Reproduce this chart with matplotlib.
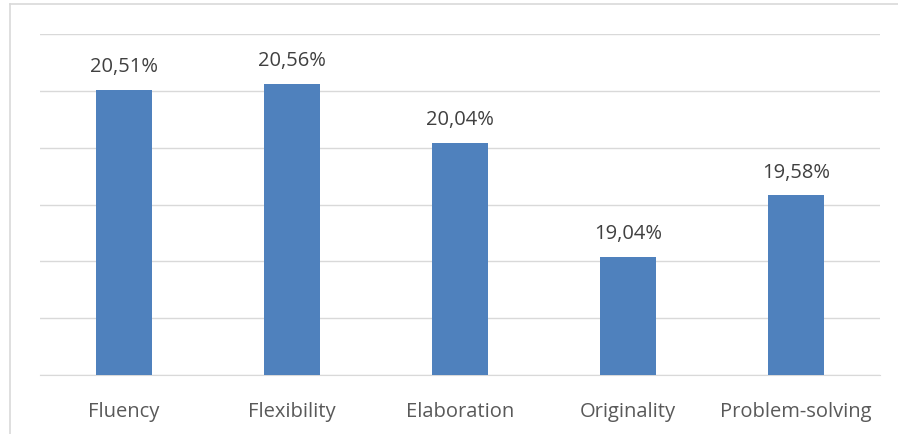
import matplotlib.pyplot as plt
from matplotlib.lines import Line2D

categories = ["Fluency", "Flexibility", "Elaboration", "Originality", "Problem-solving"]
values = [20.51, 20.56, 20.04, 19.04, 19.58]
labels = ["20,51%", "20,56%", "20,04%", "19,04%", "19,58%"]

plt.rcParams['font.family'] = ['Open Sans', 'DejaVu Sans']

fig = plt.figure(figsize=(8.98, 4.35), dpi=100)
ax = fig.add_axes([40 / 898, 59 / 435, 840 / 898, 341 / 435])

x = range(len(categories))
bars = ax.bar(x, values, width=0.333, color='#4F81BD', zorder=3)
for b, lab in zip(bars, labels):
    ax.annotate(lab, (b.get_x() + b.get_width() / 2, b.get_height()),
                xytext=(0, 10), textcoords='offset points',
                ha='center', va='bottom', fontsize=14.5, color='#404040')

ax.set_ylim(18, 21)
ax.set_xlim(-0.5, 4.5)
ax.set_yticks([18, 18.5, 19, 19.5, 20, 20.5, 21])
ax.yaxis.grid(True, color='#D9D9D9', linewidth=1)
ax.tick_params(axis='y', left=False, labelleft=False)
ax.tick_params(axis='x', bottom=False, labelsize=14.5, labelcolor='#595959', pad=15)
ax.set_xticks(list(x))
ax.set_xticklabels(categories)
for s in ['top', 'right', 'left']:
    ax.spines[s].set_visible(False)
ax.spines['bottom'].set_color('#D9D9D9')

# outer chart border
fig.add_artist(Line2D([10 / 898, 10 / 898], [0, 1 - 5 / 435], transform=fig.transFigure,
                      color='#D9D9D9', linewidth=1.2))
fig.add_artist(Line2D([10 / 898, 1], [1 - 5 / 435, 1 - 5 / 435], transform=fig.transFigure,
                      color='#D9D9D9', linewidth=1.2))

fig.savefig('out.png', dpi=100)
